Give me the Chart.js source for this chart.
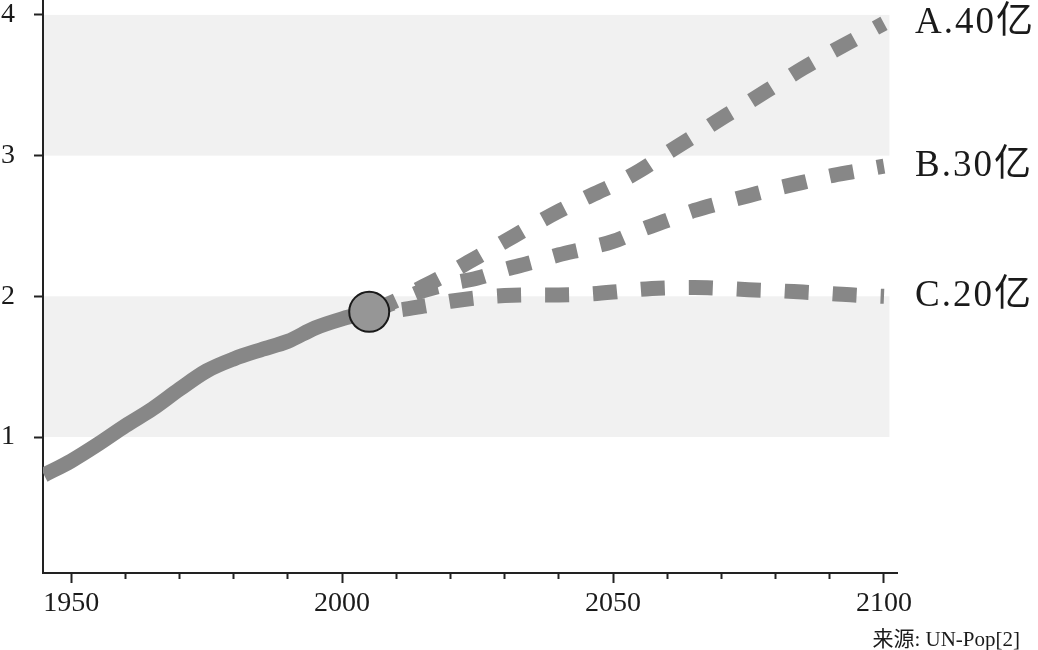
<!DOCTYPE html>
<html>
<head>
<meta charset="utf-8">
<script src="https://cdn.jsdelivr.net/npm/chart.js@4/dist/chart.umd.min.js"></script>
<style>
  html, body { margin: 0; padding: 0; background: #fff; }
  #wrap { width: 1038px; height: 650px; position: relative; }
</style>
</head>
<body>
<div id="wrap"><canvas id="popChart"></canvas></div>
<script>
// population (billions) - history and three projections
const histYears = [1945, 1950, 1955, 1960, 1965, 1970, 1975, 1980, 1985, 1990, 1995, 2000, 2005];
const histPop = [0.73, 0.83, 0.95, 1.08, 1.20, 1.34, 1.47, 1.555, 1.62, 1.68, 1.775, 1.84, 1.89];

const projYears = [2005, 2010, 2015, 2020, 2025, 2030, 2035, 2040, 2045, 2050,
                   2055, 2060, 2065, 2070, 2075, 2080, 2085, 2090, 2095, 2100];
const scenA = [1.89, 1.97, 2.07, 2.17, 2.28, 2.39, 2.50, 2.605, 2.70, 2.79,
               2.895, 3.02, 3.14, 3.265, 3.38, 3.50, 3.62, 3.73, 3.835, 3.94];
const scenB = [1.89, 1.96, 2.04, 2.09, 2.13, 2.19, 2.24, 2.295, 2.34, 2.39,
               2.47, 2.54, 2.61, 2.665, 2.715, 2.765, 2.81, 2.855, 2.89, 2.925];
const scenC = [1.89, 1.90, 1.93, 1.965, 1.99, 2.005, 2.01, 2.01, 2.015, 2.03,
               2.05, 2.06, 2.063, 2.057, 2.047, 2.04, 2.03, 2.02, 2.008, 2.0];
const scenLabels = ['A.40亿', 'B.30亿', 'C.20亿'];

const markerYear = 2005;
const markerPop = 1.89;

const xMajorTicks = [1950, 2000, 2050, 2100];
const xMinorTicks = [1960, 1970, 1980, 1990, 2010, 2020, 2030, 2040, 2060, 2070, 2080, 2090];
const yTicks = [1, 2, 3, 4];
const shadedBands = [[1, 2], [3, 4]];
const bandEndYear = 2101;
const sourceNote = '来源: UN-Pop[2]';

const GRAY = '#878787';
const INK = '#1a1a1a';
const SERIF = "'Liberation Serif', 'Noto Sans CJK SC', serif";

const toPoints = (xs, ys) => xs.map((x, i) => ({ x, y: ys[i] }));

// shaded horizontal bands behind everything
const bandPlugin = {
    id: 'bands',
    beforeDraw(chart) {
        const { ctx, chartArea, scales: { x, y } } = chart;
        const right = x.getPixelForValue(bandEndYear);
        ctx.save();
        ctx.fillStyle = '#f1f1f1';
        shadedBands.forEach(([lo, hi]) => {
            const top = y.getPixelForValue(hi);
            const bottom = y.getPixelForValue(lo);
            ctx.fillRect(chartArea.left, top, right - chartArea.left, bottom - top);
        });
        ctx.restore();
    }
};

// scenario names at the end of each dashed line + source note
const labelPlugin = {
    id: 'endLabels',
    afterDatasetsDraw(chart) {
        const { ctx } = chart;
        ctx.save();
        ctx.fillStyle = INK;
        ctx.textBaseline = 'middle';
        ctx.textAlign = 'left';
        ctx.font = '37px ' + SERIF;
        if ('letterSpacing' in ctx) ctx.letterSpacing = '2px';
        chart.data.datasets.forEach((ds, i) => {
            if (!ds.endLabel) return;
            const pts = chart.getDatasetMeta(i).data;
            const last = pts[pts.length - 1];
            ctx.fillText(ds.endLabel, last.x + 31, last.y);
        });
        if ('letterSpacing' in ctx) ctx.letterSpacing = '0px';
        ctx.font = '21px ' + SERIF;
        ctx.textAlign = 'right';
        ctx.textBaseline = 'alphabetic';
        ctx.fillText(sourceNote, chart.width - 18, 646);
        ctx.restore();
    }
};

const dashed = (data, label, offset) => ({
    data: toPoints(projYears, data),
    endLabel: label,
    borderColor: GRAY,
    borderWidth: 15,
    borderDash: [24, 24],
    borderDashOffset: offset,
    borderCapStyle: 'butt',
    cubicInterpolationMode: 'monotone',
    pointRadius: 0,
    fill: false,
    order: 3
});

new Chart(document.getElementById('popChart'), {
    type: 'line',
    data: {
        datasets: [
            {
                // the 2005 marker
                data: [{ x: markerYear, y: markerPop }],
                showLine: false,
                pointRadius: 20,
                pointBackgroundColor: '#969696',
                pointBorderColor: '#1a1a1a',
                pointBorderWidth: 2,
                order: 1
            },
            {
                data: toPoints(histYears, histPop),
                borderColor: GRAY,
                borderWidth: 15,
                borderJoinStyle: 'round',
                cubicInterpolationMode: 'monotone',
                pointRadius: 0,
                fill: false,
                order: 2
            },
            dashed(scenA, scenLabels[0], 43),
            dashed(scenB, scenLabels[1], 47),
            dashed(scenC, scenLabels[2], 15)
        ]
    },
    options: {
        responsive: true,
        maintainAspectRatio: false,
        animation: false,
        layout: { autoPadding: false, padding: { left: 0, right: 141, top: 0, bottom: 0 } },
        plugins: {
            legend: { display: false },
            tooltip: { enabled: false }
        },
        scales: {
            x: {
                type: 'linear',
                position: 'bottom',
                weight: 1,
                min: 1944.8,
                max: 2102.4,
                afterBuildTicks: s => { s.ticks = xMajorTicks.map(v => ({ value: v })); },
                afterFit: s => { s.height = 77; s.paddingLeft = 0; s.paddingRight = 0; },
                grid: { drawOnChartArea: false, tickLength: 10, tickWidth: 2, tickColor: '#222' },
                border: { color: '#222', width: 2 },
                ticks: {
                    autoSkip: false,
                    maxRotation: 0,
                    padding: 4,
                    color: INK,
                    font: { family: SERIF, size: 28 },
                    callback: v => String(v)
                }
            },
            xMinor: {
                type: 'linear',
                position: 'bottom',
                weight: 0,
                min: 1944.8,
                max: 2102.4,
                afterBuildTicks: s => { s.ticks = xMinorTicks.map(v => ({ value: v })); },
                afterFit: s => { s.height = 0; s.paddingLeft = 0; s.paddingRight = 0; },
                grid: { drawOnChartArea: false, tickLength: 6, tickWidth: 2, tickColor: '#222' },
                border: { display: false },
                ticks: { display: false }
            },
            y: {
                type: 'linear',
                min: 0.0334,
                max: 4.106,
                afterBuildTicks: s => { s.ticks = yTicks.map(v => ({ value: v })); },
                afterFit: s => { s.width = 43; s.paddingTop = 0; s.paddingBottom = 0; },
                grid: { drawOnChartArea: false, tickLength: 9, tickWidth: 2, tickColor: '#222' },
                border: { color: '#222', width: 2 },
                ticks: {
                    padding: 19,
                    color: INK,
                    font: { family: SERIF, size: 28 }
                }
            }
        }
    },
    plugins: [bandPlugin, labelPlugin]
});
</script>
</body>
</html>
